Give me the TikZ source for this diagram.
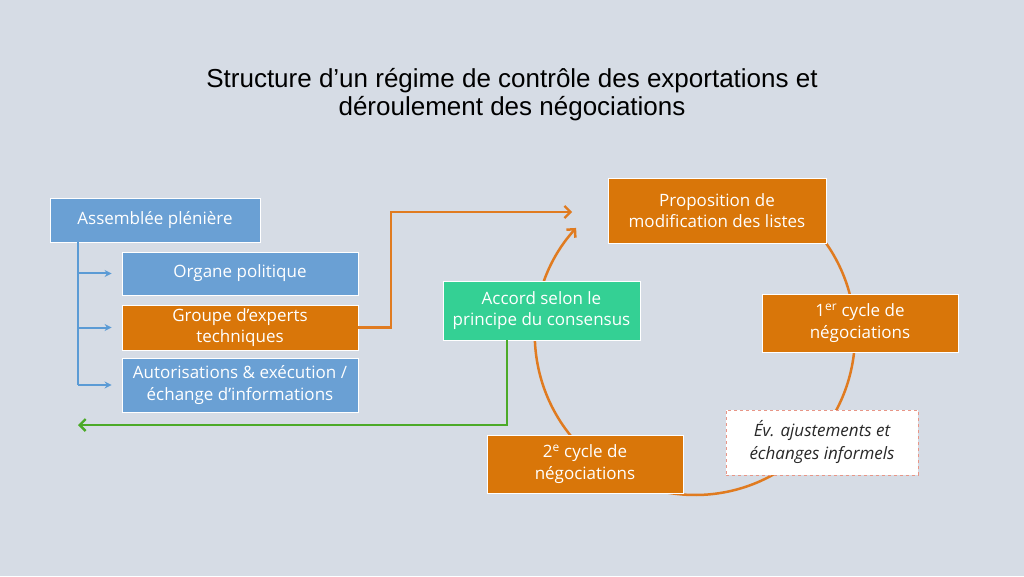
\documentclass[tikz,border=0pt]{standalone}
\usepackage{fontspec}
\setmainfont{Open Sans}
\newfontfamily\titlefont{Liberation Sans}
\usetikzlibrary{arrows.meta}
\definecolor{bgc}{RGB}{214,220,229}
\definecolor{boxblue}{RGB}{106,160,212}
\definecolor{boxorange}{RGB}{217,118,9}
\definecolor{boxgreen}{RGB}{52,208,148}
\definecolor{lineblue}{RGB}{91,155,213}
\definecolor{lineorange}{RGB}{224,123,32}
\definecolor{linegreen}{RGB}{76,170,40}
\definecolor{dashred}{RGB}{232,150,135}
\definecolor{darktext}{RGB}{40,40,40}
\tikzset{
  basebox/.style={draw=white, line width=0.8pt, text=white, align=center, inner sep=0pt, font=\fontsize{17}{21.5}\selectfont},
  bluebox/.style={basebox, fill=boxblue},
  orangebox/.style={basebox, fill=boxorange},
  greenbox/.style={basebox, fill=boxgreen},
  notebox/.style={basebox, fill=white, draw=dashred, dashed, text=darktext, font=\fontsize{17}{23}\selectfont\itshape},
  blueline/.style={draw=lineblue, line width=2pt, -{Stealth[length=7pt,width=7pt]}},
  orangeline/.style={draw=lineorange, line width=2.3pt, -{Straight Barb[length=6pt,width=12pt]}},
  greenline/.style={draw=linegreen, line width=2.3pt, -{Straight Barb[length=6pt,width=12pt]}},
  cycleline/.style={draw=lineorange, line width=2.5pt},
}
\begin{document}
\begin{tikzpicture}[x=1pt,y=1pt]
\fill[bgc] (0,0) rectangle (1024,576);
\useasboundingbox (0,0) rectangle (1024,576);

\node[font=\titlefont\fontsize{26}{28}\selectfont, align=center, text=black] (title) at (512,481)
  {Structure d’un régime de contrôle des exportations et\\déroulement des négociations};

% cycle
\coordinate (cc) at (695,241);
\draw[cycleline, -{Straight Barb[length=6pt,width=12pt]}] ([shift={(40:160)}]cc) arc[start angle=40, end angle=-222, radius=160] coordinate (cycend);

% left boxes
\node[bluebox, minimum width=210pt, minimum height=44pt] (ap) at (155,356) {Assemblée plénière};
\node[bluebox, minimum width=236pt, minimum height=43pt] (op) at (240,302.5) {Organe politique};
\node[orangebox, minimum width=236pt, minimum height=45pt] (ge) at (240,248.5) {Groupe d’experts\\techniques};
\node[bluebox, minimum width=236pt, minimum height=54pt] (au) at (240,191) {Autorisations \& exécution /\\échange d’informations};

% cycle boxes
\node[greenbox, minimum width=197pt, minimum height=59pt] (ac) at (541.5,265.5) {Accord selon le\\principe du consensus};
\node[orangebox, minimum width=218pt, minimum height=65pt] (pr) at (717,365.5) {Proposition de\\modification des listes};
\node[orangebox, minimum width=196pt, minimum height=58pt] (c1) at (860,253) {1\textsuperscript{er} cycle de\\négociations};
\node[notebox, minimum width=192pt, minimum height=65pt] (ev) at (822,133.5) {Év. ajustements et\\échanges informels};
\node[orangebox, minimum width=196pt, minimum height=58pt] (c2) at (585,112) {2\textsuperscript{e} cycle de\\négociations};

% blue tree
\coordinate (apb) at (78,334);
\draw[lineblue, line width=2pt] (apb) -- (78,191);
\draw[blueline] (78,302.5) -- ([xshift=-10pt]op.west);
\draw[blueline] (78,248.5) -- ([xshift=-10pt]ge.west);
\draw[blueline] (78,191) -- ([xshift=-10pt]au.west);

% orange connector
\coordinate (orend) at (572,364);
\draw[orangeline] (ge.east) -- (391,248.5) -- (391,364) -- (orend);

% green connector
\coordinate (grend) at (78,151);
\draw[greenline] (ac.south -| 507,0) -- (507,151) -- (grend);
\end{tikzpicture}
\end{document}
